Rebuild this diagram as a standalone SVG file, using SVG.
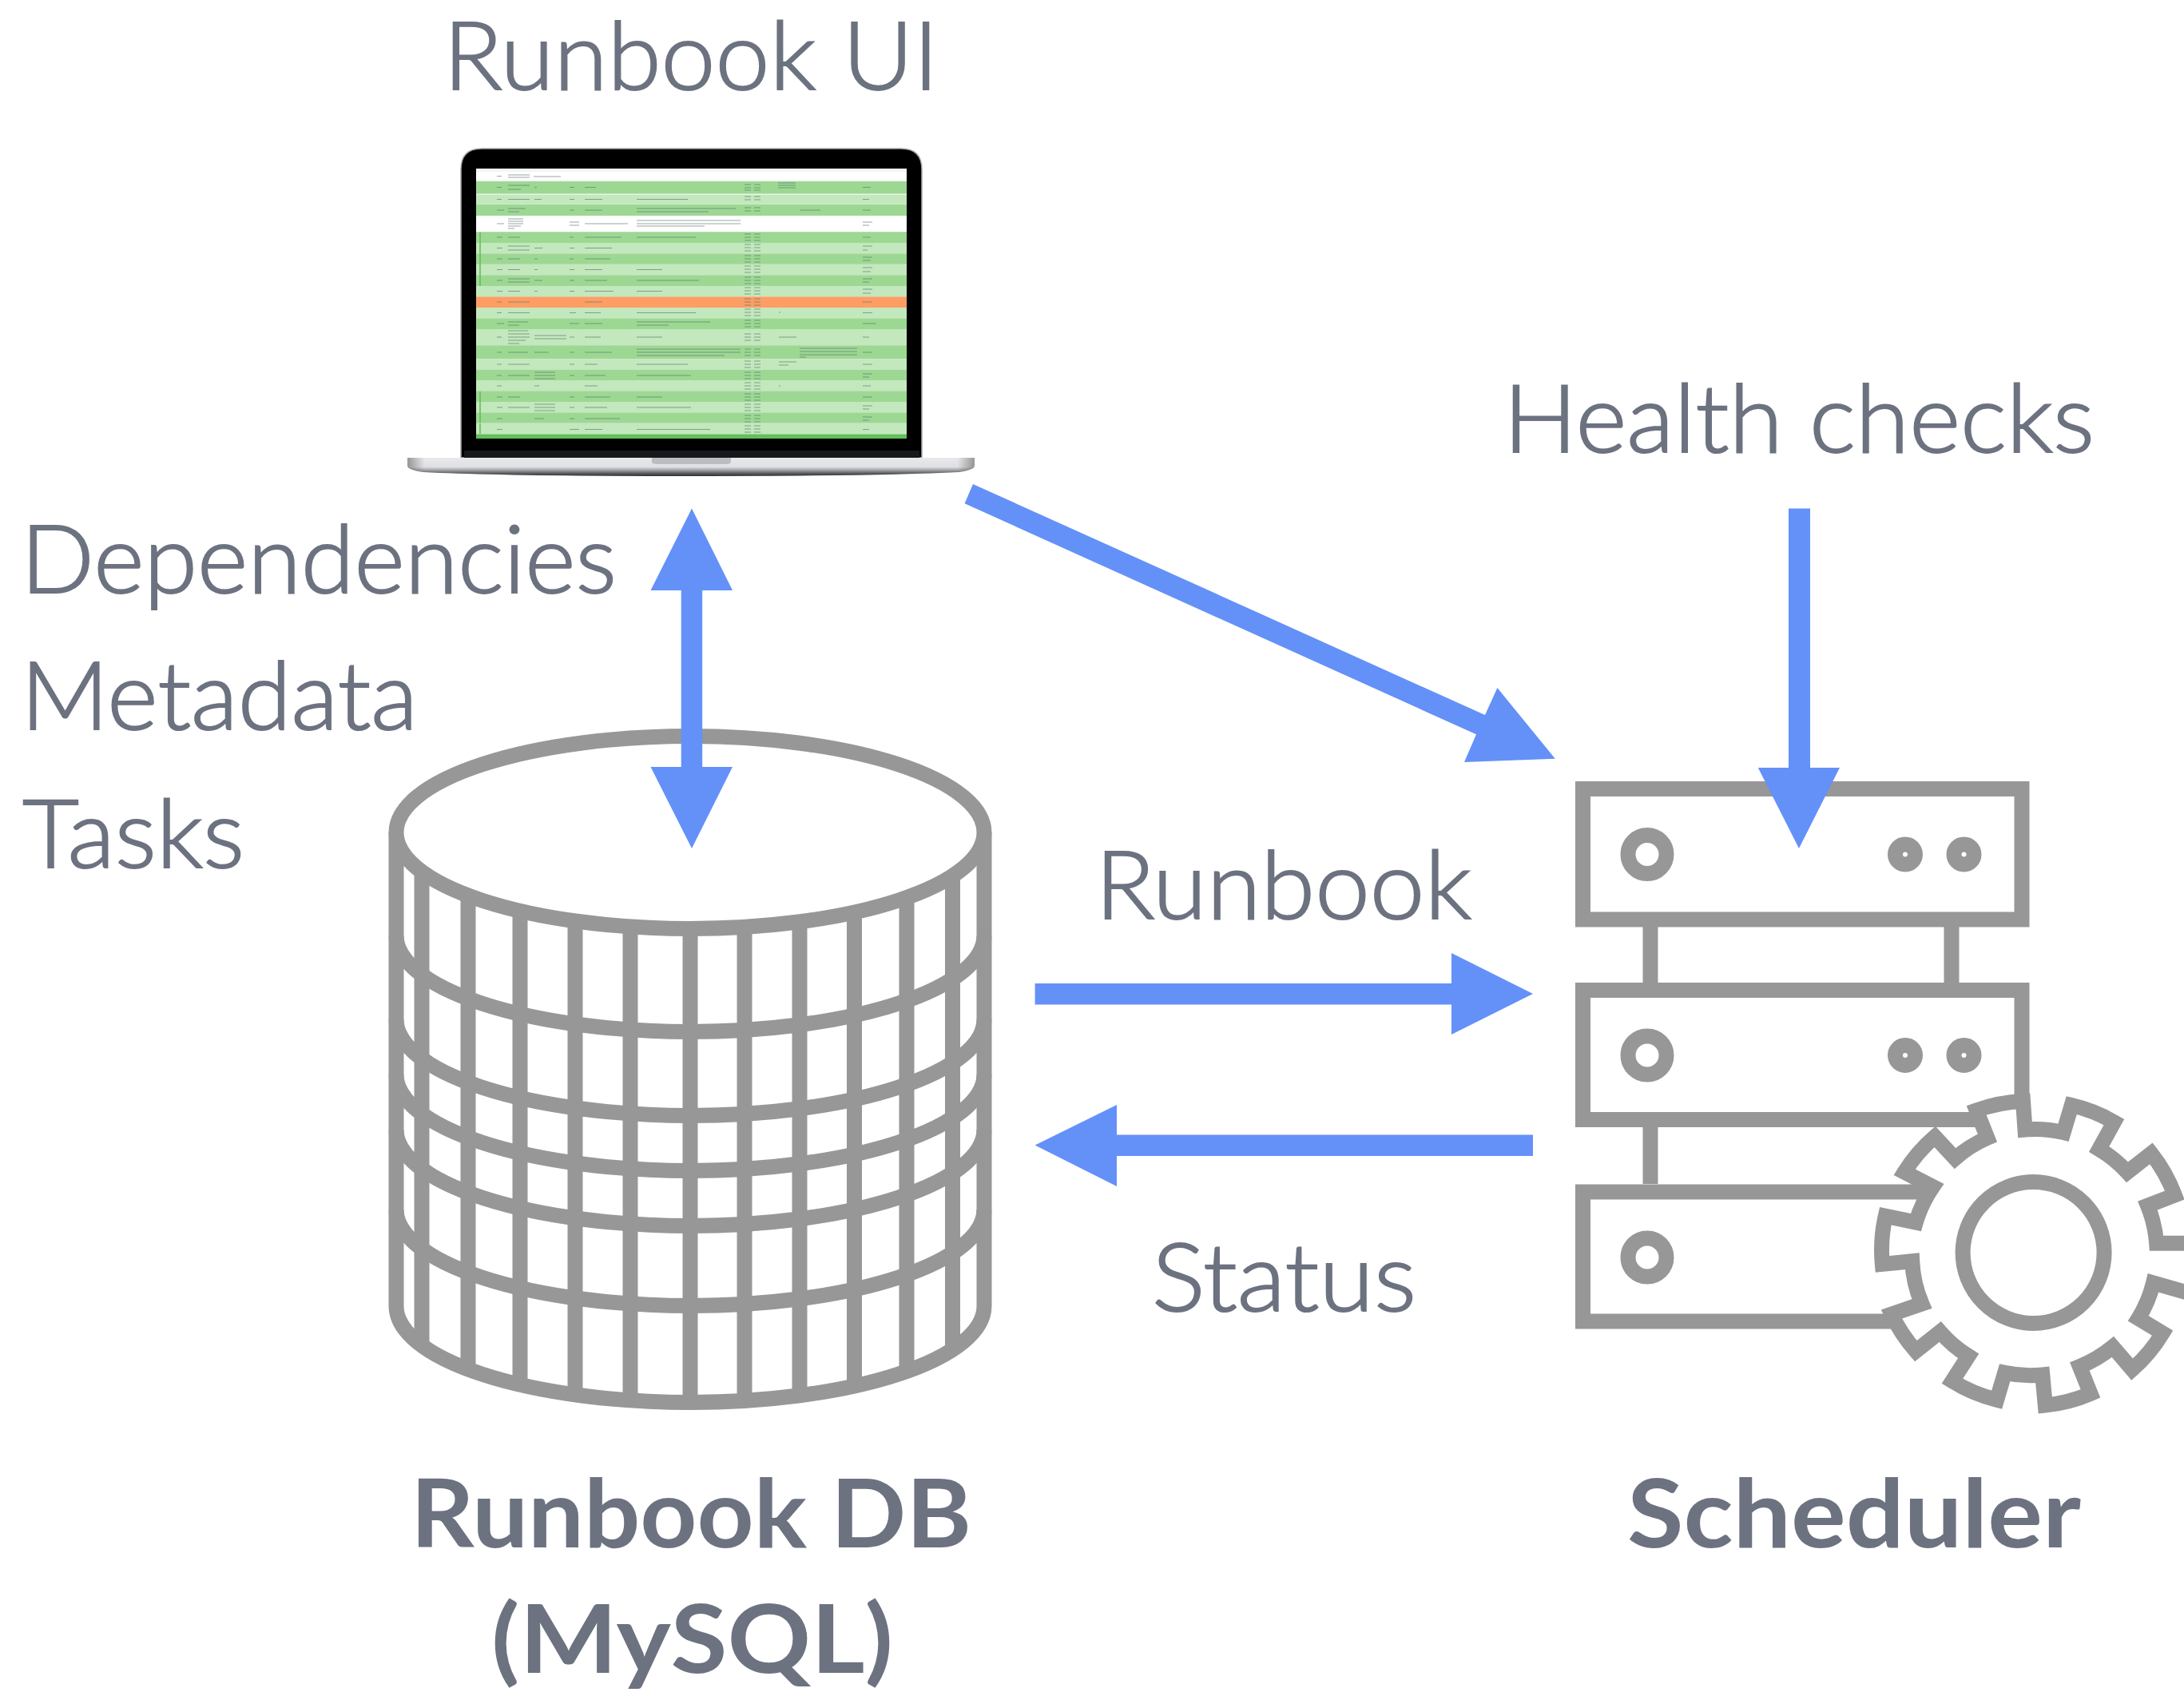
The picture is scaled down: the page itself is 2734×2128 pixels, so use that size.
<svg xmlns="http://www.w3.org/2000/svg" width="2734" height="2128" viewBox="0 0 2734 2128">
<defs>
<linearGradient id="base" x1="0" y1="0" x2="0" y2="1"><stop offset="0" stop-color="#e8e9eb"/><stop offset=".5" stop-color="#dfe0e3"/><stop offset=".68" stop-color="#a0a1a5"/><stop offset=".85" stop-color="#5a5b60"/><stop offset="1" stop-color="#2e2f33"/></linearGradient>
<linearGradient id="baseh" x1="0" y1="0" x2="1" y2="0"><stop offset="0" stop-color="#555" stop-opacity=".55"/><stop offset=".03" stop-color="#555" stop-opacity="0"/><stop offset=".97" stop-color="#555" stop-opacity="0"/><stop offset="1" stop-color="#555" stop-opacity=".55"/></linearGradient>
<filter id="soft" x="-5%" y="-5%" width="110%" height="110%"><feGaussianBlur stdDeviation="0.6"/></filter>
</defs>
<style>
text{font-family:"Lato","Open Sans",sans-serif;fill:#6c7280;stroke:#6c7280;stroke-width:2;font-size:118px;font-weight:300}
.b{font-weight:700;stroke:none}
.line{fill:none;stroke:#979797;stroke-width:19}
.fillw{fill:#fff;stroke:#979797;stroke-width:19}
.arrow{fill:#6491f8}
.dk{fill:#9dd893}.lt{fill:#c3e8bd}.wh{fill:#fff}
.tx{stroke:#4f6f66;stroke-width:1.2;stroke-opacity:.6;fill:none}
</style>
<rect width="2734" height="2128" fill="#fff"/>

<g id="laptop">
<path d="M577 573V212Q577 186 603 186H1128Q1154 186 1154 212V573Z" fill="#000" stroke="#a9a9ac" stroke-width="1.5"/>
<rect x="581" y="564" width="570" height="9" fill="#17191c"/>
<g id="screen">
<rect x="596" y="211" width="539" height="338" fill="#f4f6f4"/>
<rect class="wh" x="596" y="215" width="539" height="10"/>
<rect class="dk" x="596" y="227" width="539" height="15.500"/>
<rect class="lt" x="596" y="243.700" width="539" height="12"/>
<rect class="dk" x="596" y="256" width="539" height="14"/>
<rect class="wh" x="596" y="270" width="539" height="20"/>
<rect class="dk" x="596" y="290.300" width="539" height="13.700"/>
<rect class="lt" x="596" y="304" width="539" height="13.400"/>
<rect class="dk" x="596" y="317.400" width="539" height="13.400"/>
<rect class="lt" x="596" y="331" width="539" height="13.400"/>
<rect class="dk" x="596" y="344.400" width="539" height="13.600"/>
<rect class="lt" x="596" y="358" width="539" height="13.400"/>
<rect x="596" y="371.400" width="539" height="13.600" fill="#fe9d64"/>
<rect class="lt" x="596" y="385" width="539" height="13.400"/>
<rect class="dk" x="596" y="398.400" width="539" height="13.600"/>
<rect class="lt" x="596" y="412" width="539" height="20.300"/>
<rect class="dk" x="596" y="432.300" width="539" height="17"/>
<rect class="lt" x="596" y="449.300" width="539" height="13.400"/>
<rect class="dk" x="596" y="462.700" width="539" height="13.300"/>
<rect class="lt" x="596" y="476" width="539" height="13.400"/>
<rect class="dk" x="596" y="489.400" width="539" height="13.600"/>
<rect class="lt" x="596" y="503" width="539" height="13.400"/>
<rect class="dk" x="596" y="516.400" width="539" height="13.300"/>
<rect class="lt" x="596" y="529.700" width="539" height="13.800"/>
<rect x="596" y="543.500" width="539" height="5.500" fill="#62bf5a"/>
<path d="M601 291V344M601 331V358M601 490V529M601 530V543" stroke="#62bf5a" stroke-width="1.6" fill="none"/>
<g filter="url(#soft)">
<path class="tx" d="M622 220.500h6M636 219h27M636 222h27M668 221h34M622 234.500h6M636 232h27M636 237h16M669 234.500h3M713 234.500h6M732 234.500h14M932 231h8M944 231h8M932 235h8M944 235h8M932 238h8M944 238h8M974 229h22M974 232h22M974 235h22M1080 234.500h10"/>
<path class="tx" d="M622 249.500h6M636 249.500h27M669 249.500h9M713 249.500h6M732 249.500h22M797 249.500h64M932 246h8M944 246h8M932 250h8M944 250h8M1080 249.500h8"/>
<path class="tx" d="M622 263h9M636 261h22M636 265h14M713 263h6M732 263h22M797 261h124M797 265h90M932 260h8M944 260h8M932 264h8M944 264h8M1001 263h26M1080 263h10"/>
<path class="tx" d="M622 280h9M636 274h19M636 277h19M636 280h19M636 283h16M636 286h8M713 278h12M713 282h12M732 280h54M797 276h130M797 280h130M797 283h85M1080 278h12M1080 282h8"/>
<path class="tx" d="M622 297h7M636 297h15M713 297h5M732 297h46M797 297h74M932 293h8M944 293h8M932 297h8M944 297h8M932 301h8M944 301h8M1080 297h10"/>
<path class="tx" d="M622 310.500h7M636 308h27M636 313h27M669 310.500h10M713 310.500h6M732 310.500h34M932 306h8M944 306h8M932 310h8M944 310h8M932 314h8M944 314h8M1080 308h12M1080 313h6"/>
<path class="tx" d="M622 324h7M636 324h15M669 324h4M713 324h5M732 324h32M932 320h8M944 320h8M932 324h8M944 324h8M932 328h8M944 328h8M1080 322h12M1080 326h10"/>
<path class="tx" d="M622 337.500h7M636 337.500h15M669 337.500h4M713 337.500h6M732 337.500h22M797 337.500h32M932 333h8M944 333h8M932 337h8M944 337h8M932 341h8M944 341h8M1080 335h12M1080 340h10"/>
<path class="tx" d="M622 351h7M636 349h27M636 353h27M669 351h10M713 351h6M732 351h28M797 351h78M932 347h8M944 347h8M932 351h8M944 351h8M932 355h8M944 355h8M1080 349h12M1080 353h8"/>
<path class="tx" d="M622 364.500h7M636 364.500h15M669 364.500h4M713 364.500h6M732 364.500h36M797 364.500h32M932 360h8M944 360h8M932 364h8M944 364h8M932 368h8M944 368h8M1080 362h12M1080 367h10"/>
<path class="tx" d="M622 378h6M636 378h27M732 378h22M932 374h8M944 374h8M932 378h8M944 378h8M932 382h8M944 382h8M1080 378h12"/>
<path class="tx" d="M622 391.500h6M636 391.500h27M713 391.500h8M732 391.500h20M797 391.500h74M932 387h8M944 387h8M932 391h8M944 391h8M932 395h8M944 395h8M975 391h2M1080 391.500h12"/>
<path class="tx" d="M622 405h9M636 403h25M636 407h14M713 405h12M732 405h22M797 403h92M797 407h40M932 401h8M944 401h8M932 405h8M944 405h8M932 409h8M944 409h8M1080 405h17"/>
<path class="tx" d="M622 422h6M636 414h25M636 418h27M636 422h27M636 426h22M636 430h14M669 420h40M669 424h40M713 422h6M732 422h20M797 422h32M932 418h8M944 418h8M932 422h8M944 422h8M932 426h8M944 426h8M975 422h22M1080 422h8"/>
<path class="tx" d="M622 441h6M636 441h25M669 441h18M713 441h6M732 441h34M797 437h130M797 441h130M797 445h110M932 437h8M944 437h8M932 441h8M944 441h8M932 445h8M944 445h8M1001 436h72M1001 440h72M1001 444h72M1001 447h8M1080 441h12"/>
<path class="tx" d="M622 456h6M636 456h27M713 456h6M732 456h16M797 456h64M932 452h8M944 452h8M932 456h8M944 456h8M932 460h8M944 460h8M975 453h22M975 457h12M1080 456h12"/>
<path class="tx" d="M622 470h6M636 470h27M669 466h26M669 470h26M669 474h26M713 470h6M732 470h26M797 470h68M932 466h8M944 466h8M932 470h8M944 470h8M932 474h8M944 474h8M1080 468h12M1080 472h8"/>
<path class="tx" d="M622 483h6M669 483h6M732 483h16M932 479h8M944 479h8M932 483h8M944 483h8M932 487h8M944 487h8M975 483h2M1080 483h10"/>
<path class="tx" d="M622 497h7M636 497h15M713 497h6M732 497h32M797 497h32M932 493h8M944 493h8M932 497h8M944 497h8M932 501h8M944 501h8M1080 497h12"/>
<path class="tx" d="M622 510h7M636 510h27M669 506h26M669 510h26M669 514h26M713 510h6M732 510h28M797 510h68M932 506h8M944 506h8M932 510h8M944 510h8M932 514h8M944 514h8M1080 508h12M1080 512h8"/>
<path class="tx" d="M622 524h7M669 524h12M713 524h6M732 524h44M932 520h8M944 520h8M932 524h8M944 524h8M932 528h8M944 528h8M1080 522h12M1080 526h8"/>
<path class="tx" d="M622 537.500h7M713 537.500h12M732 537.500h22M797 537.500h92M932 533h8M944 533h8M932 537h8M944 537h8M932 541h8M944 541h8M1080 537.500h8"/>
</g>
</g>
<path d="M510 573H1220V583Q1220 588 1200 591Q1100 596 865 596Q630 596 530 591Q510 588 510 583Z" fill="url(#base)"/>
<path d="M510 573H1220V583Q1220 588 1200 591Q1100 596 865 596Q630 596 530 591Q510 588 510 583Z" fill="url(#baseh)"/>
<path d="M816 573H915V578Q915 581 908 581H823Q816 581 816 578Z" fill="#bcbdc0"/>
</g>

<g id="database">
<path class="line" d="M528 1042V1684M586 1042V1714M651 1042V1733M720 1042V1746M789 1042V1753M864 1042V1755M932 1042V1753M1001 1042V1747M1069.500 1042V1735M1135 1042V1717M1192.500 1042V1689"/>
<path class="line" d="M496 1171A368 120.500 0 0 0 1232 1171M496 1276A368 120.500 0 0 0 1232 1276M496 1345A368 120.500 0 0 0 1232 1345M496 1414A368 120.500 0 0 0 1232 1414M496 1514A368 120.500 0 0 0 1232 1514M496 1635A368 120.500 0 0 0 1232 1635"/>
<path class="line" d="M496 1042V1635M1232 1042V1635"/>
<ellipse class="fillw" cx="864" cy="1042" rx="368" ry="120.500"/>
</g>

<g id="scheduler">
<path class="line" d="M2066 1160V1230M2443 1160V1230M2066 1411V1482"/>
<rect class="line" x="1981.500" y="987.500" width="549.500" height="163.500"/>
<rect class="line" x="1981.500" y="1239.500" width="549.500" height="162"/>
<rect class="line" x="1981.500" y="1492" width="549.500" height="162"/>
<g class="line">
<circle cx="2062" cy="1069.500" r="24"/><circle cx="2385" cy="1069.500" r="12.500"/><circle cx="2458.500" cy="1069.500" r="12.500"/>
<circle cx="2062" cy="1321" r="24"/><circle cx="2385" cy="1321" r="12.500"/><circle cx="2458.500" cy="1321" r="12.500"/>
<circle cx="2062" cy="1574" r="24"/>
</g>
<path class="fillw" stroke-linejoin="miter" d="M2474.200 1389.900A190 190 0 0 1 2532.500 1378.400L2535 1414A154 154 0 0 1 2583.100 1417.600L2593.300 1383.600A190 190 0 0 1 2646.400 1404.600L2627.700 1438.500A154 154 0 0 1 2663.100 1467.300L2693 1443.800A190 190 0 0 1 2722.400 1496.100L2688.500 1509.200A154 154 0 0 1 2699.600 1556.200L2745.200 1556.200V1620L2695.500 1605.900A154 154 0 0 1 2676.800 1650.400L2707.200 1668.700A190 190 0 0 1 2669.200 1714.200L2644.900 1685.900A154 154 0 0 1 2603.400 1710.500L2617 1744.500A190 190 0 0 1 2560.300 1759.100L2556.800 1721A154 154 0 0 1 2509.700 1718.400L2499.600 1752.300A190 190 0 0 1 2443.900 1728.800L2464.100 1697.400A154 154 0 0 1 2428.700 1667.100L2398.300 1691.200A190 190 0 0 1 2367.900 1645.100L2405.900 1632.100A154 154 0 0 1 2393.700 1578.700L2356.300 1582.400A190 190 0 0 1 2360.300 1522.200L2398.300 1530.100A154 154 0 0 1 2419.600 1485.600L2384.100 1467.300A190 190 0 0 1 2422.100 1422.900L2447.400 1450.100A154 154 0 0 1 2487.900 1424.400Z"/>
<circle class="line" cx="2545.600" cy="1568" r="88.500"/>
</g>

<g id="connectors">
<path class="arrow" d="M866 636.500L917 739H879.200V960H917L866 1062L814.500 960H852.700V739H814.500Z"/>
<path class="arrow" d="M1218 606L1859 895L1874.400 861L1946.800 949.700L1833 954L1848 919.300L1207.600 630.300Z"/>
<path class="arrow" d="M2239 636.500H2266V961H2303L2252 1062L2200.800 961H2239Z"/>
<path class="arrow" d="M1295.600 1231H1817V1193L1919 1244L1817 1295V1257.600H1295.600Z"/>
<path class="arrow" d="M1919 1420.400H1398V1382.900L1295.600 1433.500L1398 1484.900V1447H1919Z"/>
</g>

<g id="labels">
<text x="555" y="112" textLength="620" lengthAdjust="spacingAndGlyphs">Runbook UI</text>
<text x="1882" y="566" textLength="740" lengthAdjust="spacingAndGlyphs">Health checks</text>
<text x="26" y="742" textLength="746" lengthAdjust="spacingAndGlyphs">Dependencies</text>
<text x="26" y="913" textLength="497" lengthAdjust="spacingAndGlyphs">Metadata</text>
<text x="28" y="1086" textLength="278" lengthAdjust="spacingAndGlyphs">Tasks</text>
<text x="1371" y="1150" textLength="471" lengthAdjust="spacingAndGlyphs">Runbook</text>
<text x="1442" y="1641" textLength="331" lengthAdjust="spacingAndGlyphs">Status</text>
<text class="b" x="514" y="1937" textLength="702" lengthAdjust="spacingAndGlyphs">Runbook DB</text>
<text class="b" x="615" y="2094" textLength="503" lengthAdjust="spacingAndGlyphs">(MySQL)</text>
<text class="b" x="2037" y="1937" textLength="568" lengthAdjust="spacingAndGlyphs">Scheduler</text>
</g>
</svg>
